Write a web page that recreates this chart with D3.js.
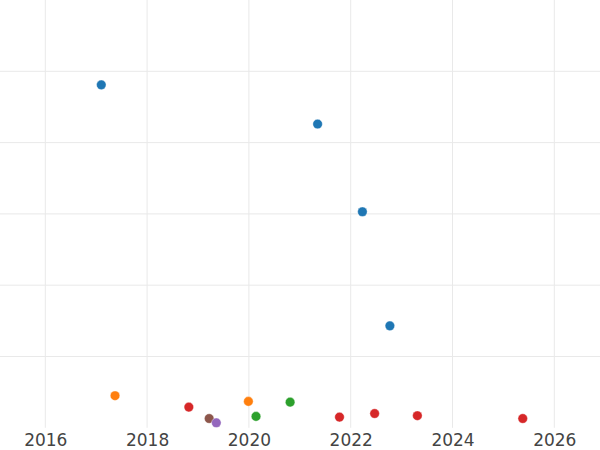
<!DOCTYPE html>
<html>
<head>
<meta charset="utf-8">
<script src="https://cdn.jsdelivr.net/npm/d3@7"></script>
<style>
  html, body { margin: 0; padding: 0; background: #fff; }
  svg { display: block; }
</style>
</head>
<body>
<svg id="chart" width="600" height="450"></svg>
<script>
// ---- data ----
const groups = ["g0", "g1", "g2", "g3", "g4", "g5"];
const groupColors = ["#1f77b4", "#ff7f0e", "#2ca02c", "#d62728", "#9467bd", "#8c564b"];
const pointGroup = ["g0", "g0", "g0", "g0", "g1", "g3", "g5", "g4", "g1", "g2", "g2", "g3", "g3", "g3", "g3"];
const pointYear  = [2017.10, 2021.35, 2022.23, 2022.77, 2017.37, 2018.82, 2019.22, 2019.36, 2019.99, 2020.14, 2020.81, 2021.78, 2022.47, 2023.31, 2025.38];
const pointValue = [4.81, 4.26, 3.03, 1.43, 0.45, 0.29, 0.13, 0.07, 0.37, 0.16, 0.36, 0.15, 0.20, 0.17, 0.13];
const xTicks = [2016, 2018, 2020, 2022, 2024, 2026];
const yTicks = [1, 2, 3, 4, 5];

// ---- layout ----
const W = 600, H = 450;
const plotTop = 0, plotBottom = 427.8;
const svg = d3.select("#chart");

const x = d3.scaleLinear()
  .domain([2016 - 45.3 / 50.9, 2026 + (600 - 554.3) / 50.9])
  .range([0, W]);
const y = d3.scaleLinear().domain([0, 6]).range([plotBottom, plotTop]);
const color = d3.scaleOrdinal().domain(groups).range(groupColors);

// gridlines
const grid = svg.append("g").attr("class", "grid");
grid.selectAll("line.v").data(xTicks).join("line")
  .attr("class", "v")
  .attr("x1", d => x(d)).attr("x2", d => x(d))
  .attr("y1", plotTop).attr("y2", plotBottom)
  .attr("stroke", "#e9e9e9").attr("stroke-width", 1);
grid.selectAll("line.h").data(yTicks).join("line")
  .attr("class", "h")
  .attr("x1", 0).attr("x2", W)
  .attr("y1", d => y(d)).attr("y2", d => y(d))
  .attr("stroke", "#e9e9e9").attr("stroke-width", 1);

// x axis
const xAxis = d3.axisBottom(x).tickValues(xTicks).tickFormat(d3.format("d")).tickSize(0).tickPadding(6);
const gx = svg.append("g").attr("transform", `translate(0,${plotBottom})`).call(xAxis);
gx.select(".domain").remove();
gx.selectAll("text")
  .attr("font-family", "DejaVu Sans, sans-serif")
  .attr("font-size", 17)
  .attr("fill", "#444");

// points
const pts = pointYear.map((v, i) => ({ year: v, value: pointValue[i], group: pointGroup[i] }));
svg.append("g").selectAll("circle").data(pts).join("circle")
  .attr("cx", d => x(d.year))
  .attr("cy", d => y(d.value))
  .attr("r", 4.8)
  .attr("fill", d => color(d.group))
  .attr("stroke", "#fff")
  .attr("stroke-width", 0.4);
</script>
</body>
</html>
